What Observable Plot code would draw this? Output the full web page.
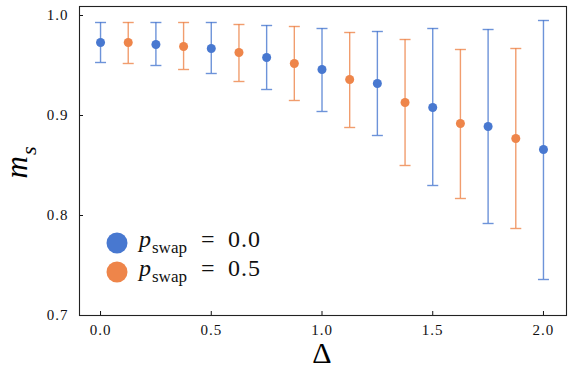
<!DOCTYPE html>
<html><head><meta charset="utf-8">
<script src="https://cdn.jsdelivr.net/npm/d3@7"></script>
<script src="https://cdn.jsdelivr.net/npm/@observablehq/plot@0.6"></script>
<style>
body{margin:0;background:#fff;}
#wrap{position:relative;width:576px;height:369px;}
#wrap svg, #wrap svg text, #wrap svg tspan { font-family: "Liberation Serif", serif !important; }
</style></head>
<body><div id="wrap"></div>
<script>
// p_swap = 0.0 (blue)
const deltaA = [0, 0.25, 0.5, 0.75, 1.0, 1.25, 1.5, 1.75, 2.0];
const meanA  = [0.973, 0.971, 0.967, 0.958, 0.946, 0.932, 0.908, 0.889, 0.866];
const lowA   = [0.953, 0.950, 0.942, 0.926, 0.904, 0.880, 0.830, 0.792, 0.736];
const highA  = [0.993, 0.993, 0.993, 0.990, 0.987, 0.984, 0.987, 0.986, 0.995];
// p_swap = 0.5 (orange)
const deltaB = [0.125, 0.375, 0.625, 0.875, 1.125, 1.375, 1.625, 1.875];
const meanB  = [0.973, 0.969, 0.963, 0.952, 0.936, 0.913, 0.892, 0.877];
const lowB   = [0.952, 0.946, 0.934, 0.915, 0.888, 0.850, 0.817, 0.787];
const highB  = [0.993, 0.993, 0.991, 0.989, 0.983, 0.976, 0.966, 0.967];

const seriesNames = ["0.0", "0.5"];
const seriesColors = ["#4878d0", "#ee854a"];
const xTicks = [0, 0.5, 1.0, 1.5, 2.0];
const yTicks = [0.7, 0.8, 0.9, 1.0];

const rows = [
  ...deltaA.map((d, i) => ({delta: d, mean: meanA[i], low: lowA[i], high: highA[i], p: seriesNames[0]})),
  ...deltaB.map((d, i) => ({delta: d, mean: meanB[i], low: lowB[i], high: highB[i], p: seriesNames[1]}))
];

const capSymbol = {draw(ctx) { ctx.moveTo(-5.5, 0); ctx.lineTo(5.5, 0); }};
const font = "Liberation Serif";

const chart = Plot.plot({
  width: 576, height: 369,
  marginLeft: 79, marginRight: 10, marginTop: 6, marginBottom: 54,
  style: "font-family: 'Liberation Serif', serif; font-size: 15px; color: #111; background: #fff;",
  x: {domain: [-0.095, 2.104], label: null},
  y: {domain: [0.7, 1.009], label: null},
  color: {domain: seriesNames, range: seriesColors},
  marks: [
    Plot.ruleX(rows, {x: "delta", y1: "low", y2: "high", stroke: "p", strokeWidth: 1.4, strokeOpacity: 0.8}),
    Plot.dot(rows, {x: "delta", y: "low", symbol: capSymbol, stroke: "p", fill: "none", strokeWidth: 1.4, strokeOpacity: 0.8}),
    Plot.dot(rows, {x: "delta", y: "high", symbol: capSymbol, stroke: "p", fill: "none", strokeWidth: 1.4, strokeOpacity: 0.8}),
    Plot.dot(rows, {x: "delta", y: "mean", fill: "p", r: 4.5}),
    Plot.axisX(xTicks, {tickSize: -4, tickPadding: 13, tickFormat: d3.format(".1f"), label: null, fontSize: 15}),
    Plot.axisY(yTicks, {tickSize: -4, tickPadding: 15, tickFormat: d3.format(".1f"), label: null, fontSize: 15}),
    Plot.frame({stroke: "#222", strokeWidth: 1.1})
  ]
});
document.getElementById("wrap").appendChild(chart);

const svg = d3.select(chart);
svg.selectAll("g[aria-label='x-axis tick label'] text, g[aria-label='y-axis tick label'] text")
  .attr("letter-spacing", "1px");
// x-axis label Δ
svg.append("text")
  .attr("x", 322).attr("y", 363)
  .attr("text-anchor", "middle")
  .attr("font-family", font).attr("font-size", 30).attr("fill", "#000")
  .text("Δ");
// y-axis label m_s
const yl = svg.append("g").attr("transform", "translate(27,161) rotate(-90)")
  .attr("font-family", font).attr("fill", "#000").attr("font-style", "italic");
yl.append("text").attr("x", 5).attr("text-anchor", "end").attr("font-size", 31).text("m");
yl.append("text").attr("x", 6).attr("y", 9).attr("text-anchor", "start").attr("font-size", 22).text("s");

// legend
const legend = svg.append("g").attr("font-family", font).attr("fill", "#111").attr("text-anchor", "start");
seriesNames.forEach((name, i) => {
  const cy = 243 + i * 29;
  legend.append("circle").attr("cx", 117).attr("cy", cy).attr("r", 10.5).attr("fill", seriesColors[i]);
  legend.append("text").attr("x", 139).attr("y", cy + 4).attr("font-size", 24).attr("font-style", "italic").text("p");
  legend.append("text").attr("x", 152).attr("y", cy + 10).attr("font-size", 17).text("swap");
  legend.append("text").attr("x", 201).attr("y", cy + 4).attr("font-size", 24).text("=");
  legend.append("text").attr("x", 228).attr("y", cy + 4).attr("font-size", 24).attr("letter-spacing", "1px").text(name);
});
</script>
</body></html>
